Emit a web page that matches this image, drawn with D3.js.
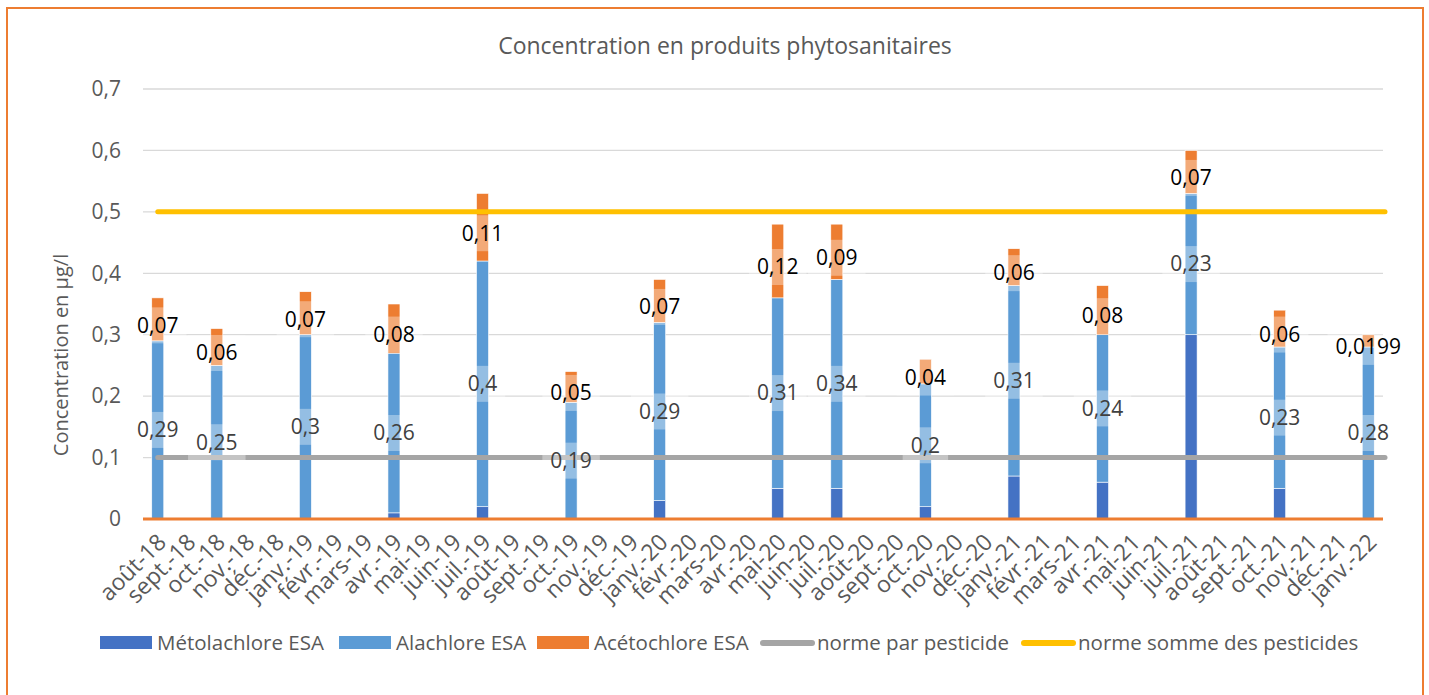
<!DOCTYPE html>
<html>
<head>
<meta charset="utf-8">
<script src="https://cdn.jsdelivr.net/npm/d3@7"></script>
<style>
  body { margin: 0; background: #fff; }
  text { font-family: "Open Sans", sans-serif; }
</style>
</head>
<body>
<div id="chart"></div>
<script>
// months on the x axis
var months = ['août-18','sept.-18','oct.-18','nov.-18','déc.-18','janv.-19','févr.-19','mars-19','avr.-19','mai-19','juin-19','juil.-19',
  'août-19','sept.-19','oct.-19','nov.-19','déc.-19','janv.-20','févr.-20','mars-20','avr.-20','mai-20','juin-20','juil.-20',
  'août-20','sept.-20','oct.-20','nov.-20','déc.-20','janv.-21','févr.-21','mars-21','avr.-21','mai-21','juin-21','juil.-21',
  'août-21','sept.-21','oct.-21','nov.-21','déc.-21','janv.-22']

// sampled months only (null = no measure)
var metolachlore = [0,null,0,null,null,0,null,null,0.01,null,null,0.02,null,null,0,null,null,0.03,null,null,null,0.05,null,0.05,
  null,null,0.02,null,null,0.07,null,null,0.06,null,null,0.3,null,null,0.05,null,null,0]
var alachlore = [0.29,null,0.25,null,null,0.3,null,null,0.26,null,null,0.4,null,null,0.19,null,null,0.29,null,null,null,0.31,null,0.34,
  null,null,0.2,null,null,0.31,null,null,0.24,null,null,0.23,null,null,0.23,null,null,0.28]
var acetochlore = [0.07,null,0.06,null,null,0.07,null,null,0.08,null,null,0.11,null,null,0.05,null,null,0.07,null,null,null,0.12,null,0.09,
  null,null,0.04,null,null,0.06,null,null,0.08,null,null,0.07,null,null,0.06,null,null,0.0199]

var normeParPesticide = 0.1
var normeSomme = 0.5

var yTicks = [0, 0.1, 0.2, 0.3, 0.4, 0.5, 0.6, 0.7]

var seriesNames = ['Métolachlore ESA', 'Alachlore ESA', 'Acétochlore ESA']
var seriesColors = ['#4472C4', '#5B9BD5', '#ED7D31']

var width = 1429, height = 695
var plot = {left: 143, right: 1383, top: 89, bottom: 519}

var svg = d3.select('#chart').append('svg')
  .attr('width', width)
  .attr('height', height)

svg.append('rect').attr('width', width).attr('height', height).attr('fill', '#fff')
// chart frame
svg.append('rect')
  .attr('x', 7).attr('y', 8).attr('width', 1416).attr('height', 720)
  .attr('fill', 'none').attr('stroke', '#ED7D31').attr('stroke-width', 2)

var x = d3.scaleBand().domain(months).range([plot.left, plot.right])
var y = d3.scaleLinear().domain([0, 0.7]).range([plot.bottom, plot.top])

function fr(v) { return String(v).replace('.', ',') }

// gridlines
svg.append('g').selectAll('line')
  .data(yTicks.slice(1))
  .enter().append('line')
  .attr('x1', plot.left).attr('x2', plot.right)
  .attr('y1', function(d) { return y(d) }).attr('y2', function(d) { return y(d) })
  .attr('stroke', '#D9D9D9').attr('stroke-width', 1.3)

// y axis labels
var yAxis = d3.axisLeft(y).tickValues(yTicks).tickSize(0).tickPadding(22)
  .tickFormat(function(d) { return d === 0 ? '0' : fr(d3.format('.1f')(d)) })
var yg = svg.append('g').attr('transform', 'translate(' + plot.left + ',0)').call(yAxis)
yg.select('.domain').remove()
yg.selectAll('text').attr('font-size', 21).attr('fill', '#595959').attr('font-family', '"Open Sans", sans-serif')

// stacked data
var rows = months.map(function(m, i) {
  return {month: m, met: metolachlore[i], ala: alachlore[i], ace: acetochlore[i]}
}).filter(function(r) { return r.ala !== null })

var stack = d3.stack().keys(['met', 'ala', 'ace'])
var stacked = stack(rows)
var barW = 12

svg.append('g').selectAll('g')
  .data(stacked)
  .enter().append('g')
  .attr('fill', function(d, i) { return seriesColors[i] })
  .selectAll('rect')
  .data(function(d) { return d })
  .enter().append('rect')
  .attr('x', function(d) { return x(d.data.month) + x.bandwidth() / 2 - barW / 2 })
  .attr('width', barW)
  .attr('y', function(d) { return y(d[1]) })
  .attr('height', function(d) { return y(d[0]) - y(d[1]) })
  .attr('stroke', '#fff').attr('stroke-width', 0.6)

// norm lines
var lineStart = x(months[0]) + x.bandwidth() / 2
function normLine(v, color) {
  svg.append('line')
    .attr('x1', lineStart).attr('x2', plot.right + 2)
    .attr('y1', y(v)).attr('y2', y(v))
    .attr('stroke', color).attr('stroke-width', 5).attr('stroke-linecap', 'round')
}
normLine(normeParPesticide, '#A5A5A5')
normLine(normeSomme, '#FFC000')

// baseline
svg.append('line')
  .attr('x1', plot.left).attr('x2', plot.right)
  .attr('y1', y(0)).attr('y2', y(0))
  .attr('stroke', '#ED7D31').attr('stroke-width', 3)

// data labels (Alachlore + Acétochlore)
var labelG = svg.append('g')
function addLabel(cx, cy, txt, color) {
  var g = labelG.append('g')
  var t = g.append('text')
    .attr('x', cx).attr('y', cy).attr('dy', '0.35em')
    .attr('text-anchor', 'middle').attr('font-size', 21)
    .attr('fill', color).text(txt)
  var w = t.node().getComputedTextLength()
  g.insert('rect', 'text')
    .attr('x', cx - w / 2 - 8).attr('y', cy - 18)
    .attr('width', w + 16).attr('height', 36)
    .attr('fill', '#fff').attr('fill-opacity', 0.35)
}
stacked[1].forEach(function(d) {
  var cx = x(d.data.month) + x.bandwidth() / 2
  addLabel(cx, y((d[0] + d[1]) / 2), fr(d.data.ala), '#404040')
})
stacked[2].forEach(function(d) {
  var cx = x(d.data.month) + x.bandwidth() / 2
  addLabel(cx, y((d[0] + d[1]) / 2) + 6, fr(d.data.ace), '#000')
})

// x axis labels
svg.append('g').selectAll('text')
  .data(months)
  .enter().append('text')
  .attr('transform', function(d) {
    return 'translate(' + (x(d) + x.bandwidth() / 2 + 4) + ',' + (plot.bottom + 19) + ') rotate(-45)'
  })
  .attr('text-anchor', 'end').attr('dy', '0.35em')
  .attr('font-size', 23).attr('fill', '#595959')
  .text(function(d) { return d })

// titles
svg.append('text')
  .attr('x', 725).attr('y', 54).attr('text-anchor', 'middle')
  .attr('font-size', 23).attr('fill', '#595959')
  .text('Concentration en produits phytosanitaires')

svg.append('text')
  .attr('transform', 'translate(68,355) rotate(-90)')
  .attr('text-anchor', 'middle').attr('font-size', 20).attr('fill', '#595959')
  .text('Concentration en µg/l')

// legend
var legendItems = [
  {name: seriesNames[0], color: seriesColors[0], type: 'rect', x: 100},
  {name: seriesNames[1], color: seriesColors[1], type: 'rect', x: 339},
  {name: seriesNames[2], color: seriesColors[2], type: 'rect', x: 537},
  {name: 'norme par pesticide', color: '#A5A5A5', type: 'line', x: 760},
  {name: 'norme somme des pesticides', color: '#FFC000', type: 'line', x: 1021}
]
var ly = 643
var lg = svg.append('g').selectAll('g').data(legendItems).enter().append('g')
lg.each(function(d) {
  var g = d3.select(this)
  if (d.type === 'rect') {
    g.append('rect').attr('x', d.x).attr('y', ly - 7).attr('width', 52).attr('height', 13).attr('fill', d.color)
  } else {
    g.append('line').attr('x1', d.x + 3).attr('x2', d.x + 52).attr('y1', ly).attr('y2', ly)
      .attr('stroke', d.color).attr('stroke-width', 6).attr('stroke-linecap', 'round')
  }
  g.append('text').attr('x', d.x + 57).attr('y', ly).attr('dy', '0.35em')
    .attr('font-size', 20.5).attr('fill', '#595959').text(d.name)
})
</script>
</body>
</html>
